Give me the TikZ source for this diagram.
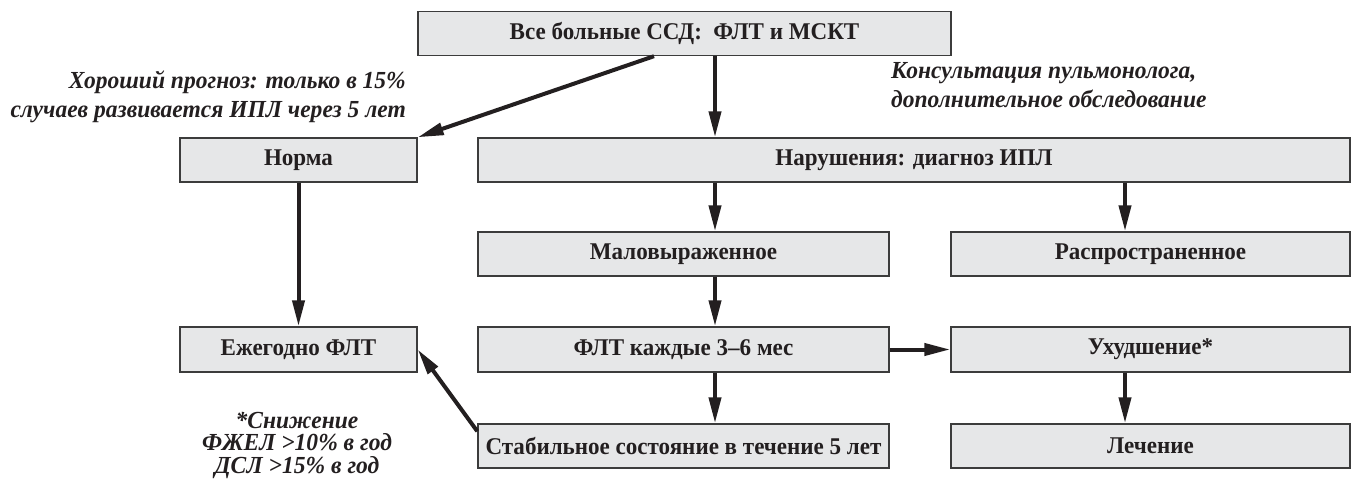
\documentclass[tikz,border=0pt]{standalone}
\usepackage{fontspec}
\setmainfont{Liberation Serif}[FakeStretch=0.96]
\usepackage{tikz}
\usetikzlibrary{arrows.meta,calc,positioning}
\definecolor{boxgray}{HTML}{E6E7E8}
\definecolor{edgegray}{HTML}{3C3C3C}
\definecolor{inkblack}{HTML}{231F20}

\begin{document}
\begin{tikzpicture}[x=1pt,y=-1pt,
  box/.style={draw=edgegray,line width=1.4pt,fill=boxgray,minimum height=44pt,
    inner sep=0pt,text=inkblack,font=\fontsize{24}{28}\selectfont\bfseries},
  arr/.style={line width=4pt,draw=inkblack,-{Triangle[length=26pt,width=12pt]}},
  note/.style={inner sep=0pt,text=inkblack,font=\fontsize{24.5}{29}\selectfont\bfseries\itshape}]
  \useasboundingbox (0,0) rectangle (1355,481);

  % Screening
  \node[box,minimum width=533pt] (all) at (684.5,33.5) {Все больные ССД:\ \ ФЛТ и МСКТ};

  % First split
  \node[box,minimum width=237pt] (norm) at (298.5,160) {Норма};
  \node[box,minimum width=872pt] (bad) at (914,160) {Нарушения: диагноз ИПЛ};

  % Extent of disease
  \node[box,minimum width=411pt] (mild) at (683.5,254) {Маловыраженное};
  \node[box,minimum width=399pt] (wide) at (1150.5,254) {Распространенное};

  % Follow-up
  \node[box,minimum width=237pt,minimum height=45pt] (yearly) at (298.5,349.5) {Ежегодно ФЛТ};
  \node[box,minimum width=411pt,minimum height=45pt] (pft) at (683.5,349.5) {ФЛТ каждые 3--6 мес};
  \node[box,minimum width=399pt,minimum height=45pt] (worse) at (1150.5,349.5) {Ухудшение*};

  % Outcome
  \node[box,minimum width=411pt] (stable) at (683.5,446) {Стабильное состояние в течение 5 лет};
  \node[box,minimum width=399pt] (treat) at (1150.5,446) {Лечение};

  % Notes
  \node[note,align=right,anchor=east] (good) at (406,97) {Хороший прогноз: только в 15\%\\случаев развивается ИПЛ через 5 лет};
  \node[note,align=left,anchor=west] (consult) at (891,85) {Консультация пульмонолога,\\дополнительное обследование};
  \node[note,align=center,font=\fontsize{24.5}{22.5}\selectfont\bfseries\itshape] (crit) at (297,445) {*Снижение\\ФЖЕЛ >10\% в год\\ДСЛ >15\% в год};

  % Columns of the arrows
  \coordinate (diag) at (654,0);
  \coordinate (midcol) at (715,0);
  \coordinate (rightcol) at (1125,0);

  % Arrows
  \draw[arr] (all.south -| diag) -- (norm.north east);
  \draw[arr] (all.south -| midcol) -- (bad.north -| midcol);
  \draw[arr] (bad.south -| midcol) -- (mild.north -| midcol);
  \draw[arr] (bad.south -| rightcol) -- (wide.north -| rightcol);
  \draw[arr] (norm.south) -- (yearly.north);
  \draw[arr] (mild.south -| midcol) -- (pft.north -| midcol);
  \draw[arr] (pft.east) -- (worse.west);
  \draw[arr] (pft.south -| midcol) -- (stable.north -| midcol);
  \draw[arr] (worse.south -| rightcol) -- (treat.north -| rightcol);
  \draw[arr] ([yshift=-8pt]stable.north west) -- (yearly.east);
\end{tikzpicture}
\end{document}
